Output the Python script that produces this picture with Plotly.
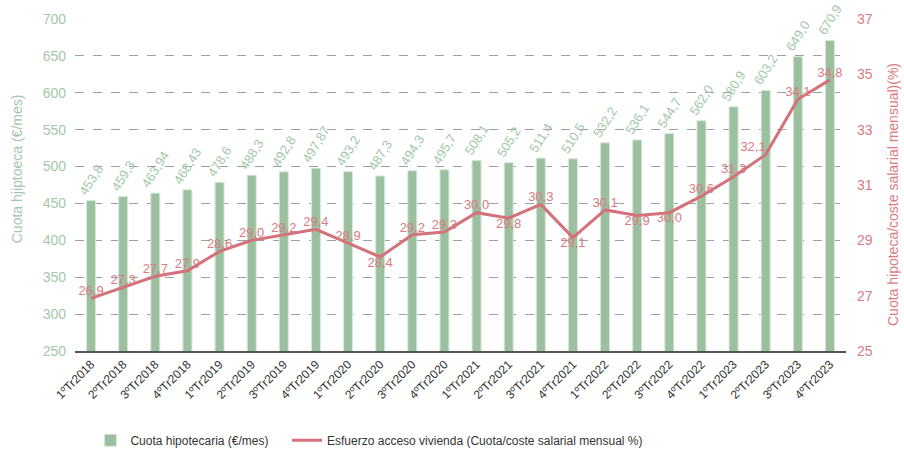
import plotly.graph_objects as go

# Quarters
trimestres = [
    "1ºTr2018", "2ºTr2018", "3ºTr2018", "4ºTr2018",
    "1ºTr2019", "2ºTr2019", "3ºTr2019", "4ºTr2019",
    "1ºTr2020", "2ºTr2020", "3ºTr2020", "4ºTr2020",
    "1ºTr2021", "2ºTr2021", "3ºTr2021", "4ºTr2021",
    "1ºTr2022", "2ºTr2022", "3ºTr2022", "4ºTr2022",
    "1ºTr2023", "2ºTr2023", "3ºTr2023", "4ºTr2023",
]

# Monthly mortgage payment (€/mes)
cuota = [
    453.8, 459.3, 463.94, 468.43,
    478.6, 488.3, 492.8, 497.87,
    493.2, 487.3, 494.3, 495.7,
    508.1, 505.2, 511.4, 510.5,
    532.2, 536.1, 544.7, 562.0,
    580.9, 603.2, 649.0, 670.9,
]
cuota_txt = [
    "453,8", "459,3", "463,94", "468,43",
    "478,6", "488,3", "492,8", "497,87",
    "493,2", "487,3", "494,3", "495,7",
    "508,1", "505,2", "511,4", "510,5",
    "532,2", "536,1", "544,7", "562,0",
    "580,9", "603,2", "649,0", "670,9",
]

# Housing access effort (% of monthly salary cost)
esfuerzo = [
    26.9, 27.3, 27.7, 27.9,
    28.6, 29.0, 29.2, 29.4,
    28.9, 28.4, 29.2, 29.3,
    30.0, 29.8, 30.3, 29.1,
    30.1, 29.9, 30.0, 30.6,
    31.3, 32.1, 34.1, 34.8,
]
# label placement of each percentage relative to its point
esfuerzo_pos = [
    "top center", "top center", "top center", "top center",
    "top center", "top center", "top center", "top center",
    "top center", "bottom center", "top center", "top center",
    "top center", "bottom center", "top center", "bottom center",
    "top center", "bottom center", "bottom center", "top center",
    "top center", "top left", "top center", "top center",
]

VERDE = "#9bbf9f"
VERDE_TXT = "#a3c8a9"
ROJO = "#d4717a"
ROJO_TXT = "#d97b82"
FONT = "Liberation Sans, Arial, sans-serif"

fig = go.Figure()

fig.add_trace(go.Bar(
    x=trimestres, y=cuota,
    name="Cuota hipotecaria (€/mes)",
    marker=dict(color=VERDE, line=dict(color="#d7e8da", width=1)),
    text=cuota_txt, textposition="outside", textangle=-58,
    textfont=dict(color=VERDE_TXT, size=13, family=FONT),
    constraintext="none", cliponaxis=False,
    yaxis="y", legend="legend",
))

fig.add_trace(go.Scatter(
    x=trimestres, y=esfuerzo,
    name="Esfuerzo acceso vivienda (Cuota/coste salarial mensual %)",
    mode="lines+text",
    line=dict(color=ROJO, width=3),
    text=[f"{v:.1f}".replace(".", ",") for v in esfuerzo],
    textposition=esfuerzo_pos,
    textfont=dict(color=ROJO_TXT, size=13, family=FONT),
    cliponaxis=False,
    yaxis="y2", legend="legend2",
))

legend_style = dict(
    orientation="h", yanchor="top", xanchor="left", y=-0.225,
    font=dict(size=12, color="#333333", family=FONT),
    bgcolor="rgba(0,0,0,0)",
)

fig.update_layout(
    width=904, height=451,
    margin=dict(l=75, r=58, t=19, b=100, autoexpand=False),
    paper_bgcolor="white", plot_bgcolor="white",
    font=dict(family=FONT, size=12, color="#333333"),
    bargap=0.72,
    showlegend=True,
    legend=dict(x=0.02, **legend_style),
    legend2=dict(x=0.275, **legend_style),
    xaxis=dict(
        range=[-0.5, len(trimestres) - 0.5],
        tickangle=-45, tickfont=dict(size=12, color="#333333"),
        showgrid=False, showline=True, linecolor="#555555", linewidth=1.5,
        ticks="", automargin=False,
    ),
    yaxis=dict(
        range=[250, 700], tickvals=list(range(250, 701, 50)),
        tickfont=dict(size=14, color=VERDE_TXT),
        showgrid=True, gridcolor="#a0a0a0", griddash="dash", gridwidth=1,
        zeroline=False, ticklabelstandoff=8, automargin=False,
    ),
    yaxis2=dict(
        range=[25, 37], tickvals=list(range(25, 38, 2)),
        overlaying="y", side="right",
        tickfont=dict(size=14, color=ROJO_TXT),
        showgrid=False, zeroline=False, ticklabelstandoff=10, automargin=False,
    ),
    annotations=[
        dict(text="Cuota hjiptoeca (€/mes)", textangle=-90,
             xref="paper", yref="paper", x=-0.075, y=0.548,
             xanchor="center", yanchor="middle", showarrow=False,
             font=dict(size=14, color=VERDE_TXT, family=FONT)),
        dict(text="Cuota hipoteca/coste salarial mensual)(%)", textangle=-90,
             xref="paper", yref="paper", x=1.061, y=0.47,
             xanchor="center", yanchor="middle", showarrow=False,
             font=dict(size=14, color=ROJO_TXT, family=FONT)),
    ],
)

fig.write_html("out.html")
